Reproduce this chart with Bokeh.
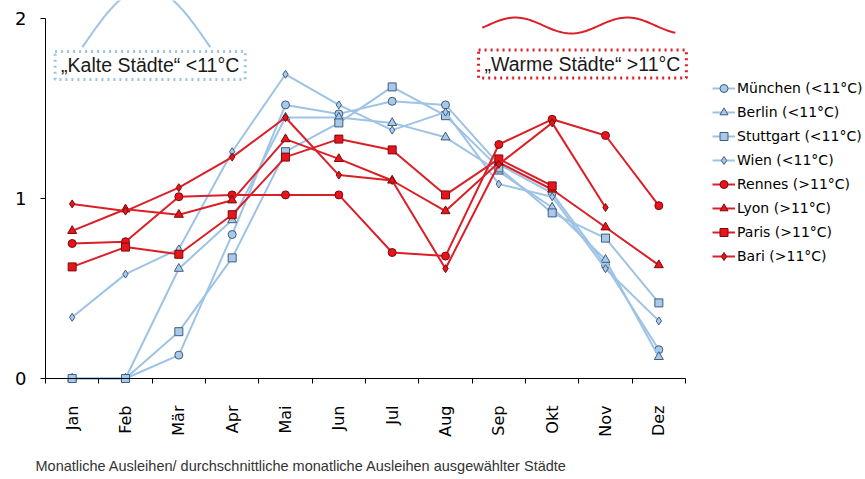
import numpy as np
from bokeh.plotting import figure
from bokeh.models import Range1d, FixedTicker, Legend, LegendItem, Label
from bokeh.embed import file_html
from bokeh.resources import INLINE

months = ["Jan", "Feb", "Mär", "Apr", "Mai", "Jun", "Jul", "Aug", "Sep", "Okt", "Nov", "Dez"]

muenchen = [0.00, 0.00, 0.13, 0.80, 1.52, 1.47, 1.54, 1.52, 1.19, 1.03, 0.63, 0.16]
berlin = [0.00, 0.00, 0.61, 0.88, 1.45, 1.45, 1.42, 1.34, 1.15, 0.95, 0.66, 0.12]
stuttgart = [0.00, 0.00, 0.26, 0.67, 1.26, 1.42, 1.62, 1.46, 1.17, 0.92, 0.78, 0.42]
wien = [0.34, 0.58, 0.72, 1.26, 1.69, 1.52, 1.38, 1.48, 1.08, 1.01, 0.61, 0.32]
rennes = [0.75, 0.76, 1.01, 1.02, 1.02, 1.02, 0.70, 0.68, 1.30, 1.44, 1.35, 0.96]
lyon = [0.82, 0.94, 0.91, 0.99, 1.33, 1.22, 1.10, 0.93, 1.20, 1.05, 0.84, 0.63]
paris = [0.62, 0.73, 0.69, 0.91, 1.23, 1.33, 1.27, 1.02, 1.22, 1.07, None, None]
bari = [0.97, 0.93, 1.06, 1.23, 1.45, 1.13, 1.10, 0.61, 1.19, 1.42, 0.95, None]

series = [
    ("München (<11°C)", muenchen, "circle", "cold"),
    ("Berlin (<11°C)", berlin, "triangle", "cold"),
    ("Stuttgart (<11°C)", stuttgart, "square", "cold"),
    ("Wien (<11°C)", wien, "diamond", "cold"),
    ("Rennes (>11°C)", rennes, "circle", "warm"),
    ("Lyon (>11°C)", lyon, "triangle", "warm"),
    ("Paris (>11°C)", paris, "square", "warm"),
    ("Bari (>11°C)", bari, "diamond", "warm"),
]

y_ticks = [0, 1, 2]
caption = "Monatliche Ausleihen/ durchschnittliche monatliche Ausleihen ausgewählter Städte"
cold_text = "\u201eKalte Städte\u201c <11°C"
warm_text = "\u201eWarme Städte\u201c >11°C"

BLUE_LINE = "#9dc3e6"
BLUE_FILL = "#a9c9ea"
BLUE_EDGE = "#3f5d7d"
RED_LINE = "#dc1f27"
RED_FILL = "#e8141c"
RED_EDGE = "#7a0c0c"

# canvas layout (pixels)
W, H = 865, 479
X0_PX = 45          # canvas x of the y axis
Y0_PX = 378         # canvas y of value 0
PX_X = 640 / len(months)   # pixels per month
PX_Y = 180.0               # pixels per unit

x_start = -X0_PX / PX_X
x_end = (W - X0_PX) / PX_X
y_start = -(H - Y0_PX) / PX_Y
y_end = Y0_PX / PX_Y

p = figure(width=W, height=H, output_backend="svg", toolbar_location=None,
           x_range=Range1d(x_start, x_end), y_range=Range1d(y_start, y_end),
           min_border_left=0, min_border_right=0, min_border_top=0,
           min_border_bottom=0)
p.outline_line_color = None
p.grid.visible = False
p.background_fill_color = "white"
p.border_fill_color = "white"

centers = [i + 0.5 for i in range(len(months))]
bounds_ticks = list(range(len(months) + 1))

xa = p.xaxis[0]
xa.fixed_location = 0
xa.bounds = (0, len(months))
xa.ticker = FixedTicker(ticks=centers, minor_ticks=bounds_ticks)
xa.major_label_overrides = {c: m for c, m in zip(centers, months)}
xa.major_tick_in = 0
xa.major_tick_out = 0
xa.minor_tick_in = 0
xa.minor_tick_out = 5
xa.minor_tick_line_color = "black"
xa.axis_line_color = "black"
xa.major_label_orientation = np.pi / 2
xa.major_label_text_font = "DejaVu Sans"
xa.major_label_text_font_size = "16px"
xa.major_label_text_color = "black"
xa.major_label_standoff = 22

ya = p.yaxis[0]
ya.fixed_location = 0
ya.ticker = FixedTicker(ticks=y_ticks, minor_ticks=[])
ya.bounds = (0, 2)
ya.major_tick_in = 0
ya.major_tick_out = 5
ya.minor_tick_out = 0
ya.axis_line_color = "black"
ya.major_label_text_font = "DejaVu Sans"
ya.major_label_text_font_size = "18px"
ya.major_label_text_color = "black"
ya.major_label_standoff = 14

items = []
for name, vals, marker, kind in series:
    y = [np.nan if v is None else v for v in vals]
    if kind == "cold":
        lc, fc, ec = BLUE_LINE, BLUE_FILL, BLUE_EDGE
    else:
        lc, fc, ec = RED_LINE, RED_FILL, RED_EDGE
    size = {"circle": 8, "triangle": 9, "square": 8, "diamond": 8}[marker]
    lr = p.line(centers, y, line_color=lc, line_width=2)
    sr = p.scatter(centers, y, marker=marker, size=size, fill_color=fc,
                   line_color=ec, line_width=1)
    items.append(LegendItem(label=name, renderers=[lr, sr]))

# decorative curves above the annotation boxes
t = np.linspace(0, 1, 80)
hump_x = 0.69 + 2.4 * t
hump_y = 1.84 + 0.33 * np.sin(np.pi * t)
p.line(hump_x, hump_y, line_color=BLUE_LINE, line_width=2)

wx = 8.19 + 3.62 * t
wy_px = 25 - 8 * np.cos(2 * np.pi * (t - 0.171) / 0.58)
wy = (378 - wy_px) / 180.0
p.line(wx, wy, line_color=RED_LINE, line_width=2)

box_pad = dict(left=6, right=6, top=3, bottom=3)
cold = Label(x=0.18, y=1.739, text=cold_text, text_font="Liberation Sans",
             text_font_size="19.5px", text_color="#1a1a1a", text_baseline="middle",
             text_align="left", background_fill_color="white",
             border_line_color=BLUE_LINE, border_line_dash="dotted",
             border_line_width=3, padding=box_pad)
warm = Label(x=8.12, y=1.747, text=warm_text, text_font="Liberation Sans",
             text_font_size="19.5px", text_color="#1a1a1a", text_baseline="middle",
             text_align="left", background_fill_color="white",
             border_line_color=RED_LINE, border_line_dash="dotted",
             border_line_width=3, padding=box_pad)
p.add_layout(cold)
p.add_layout(warm)

cap = Label(x=-10 / PX_X, y=-87 / PX_Y, text=caption, text_font="Liberation Sans",
            text_font_size="14.5px", text_color="#333333", text_baseline="middle",
            text_align="left")
p.add_layout(cap)

legend = Legend(items=items, location=(712, 213), padding=0, margin=0,
                spacing=4, label_height=20, glyph_height=20, glyph_width=23,
                label_standoff=2, label_text_font="DejaVu Sans",
                label_text_font_size="14px", label_text_color="black",
                border_line_color=None, background_fill_alpha=0)
p.add_layout(legend)

open("out.html", "w").write(file_html(p, INLINE))
